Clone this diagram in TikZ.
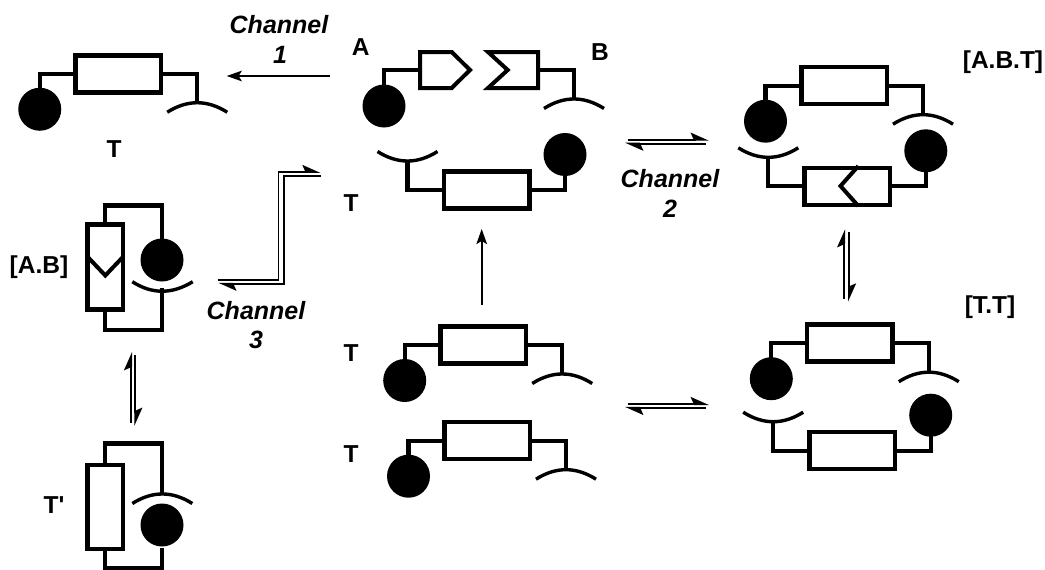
\documentclass[tikz,border=0pt]{standalone}
\usepackage{fontspec}
\setmainfont{Liberation Sans}
\newfontfamily\rawsans{Liberation Sans}
\usetikzlibrary{arrows.meta}
\tikzset{
  x=1pt,y=-1pt,
  box/.style={draw=black,line width=4.5pt,fill=white},
  thinbox/.style={draw=black,line width=4pt,fill=white},
  arm/.style={draw=black,line width=4.2pt},
  cup/.style={draw=black,line width=3.4pt},
  ball/.style={fill=black},
  lab/.style={font=\fontsize{24.5}{24.5}\selectfont\bfseries,anchor=base,inner sep=0pt},
  chan/.style={font=\fontsize{25}{25}\selectfont\bfseries\itshape,anchor=base,inner sep=0pt},
  oneway/.style={draw=black,line width=2pt,-{Stealth[length=15pt,width=10.5pt,inset=3pt]}},
  halfway/.style={draw=black,line width=2pt,-{Stealth[harpoon,length=16pt,width=14pt,inset=3pt]}},
  halfstep/.style={draw=black,line width=1.8pt,-{Stealth[harpoon,length=16pt,width=14pt,inset=3pt]}}
}
\newcommand{\cupshape}[2]{\draw[cup] (#1-30,#2+9.5) .. controls (#1-10,#2-3.2) and (#1+10,#2-3.2) .. (#1+30,#2+9.5);}
\newcommand{\mol}[3]{%
  \begin{scope}[shift={(#1,#2)},rotate=#3]
    \draw[arm] (0,0) -| (-78.5,16);
    \draw[arm] (0,0) -| (79,28);
    \draw[box] (-42.75,-18.5) rectangle (42.75,18.5);
    \fill[ball] (-78.5,35.5) circle (21.5);
    \cupshape{79}{29}
  \end{scope}}
\begin{document}
\begin{tikzpicture}
\useasboundingbox (0,0) rectangle (1045,570);
\fill[white] (0,0) rectangle (1045,570);

% straight single-strand units
\mol{118.25}{73.75}{0}
\mol{486.5}{190}{180}
\mol{844}{85.7}{0}
\mol{847.3}{186.3}{180}
\mol{483.2}{345}{0}
\mol{487}{440.7}{0}
\mol{849.8}{343.2}{0}
\mol{852.2}{450.7}{180}

% chevron in the lower strand of [A.B.T]
\draw[arm,line width=4pt] (858.3,166) -- (840.5,186) -- (858.3,206);

% A and B pieces
\draw[arm] (420,70) -| (384,90);
\draw[thinbox] (420,52) -- (451.7,52) -- (470,70) -- (451.7,88) -- (420,88) -- cycle;
\fill[ball] (384,106) circle (21.5);
\draw[arm] (538,70) -| (574,98);
\draw[thinbox] (538,52) -- (488,52) -- (507.7,70) -- (488,88) -- (538,88) -- cycle;
\cupshape{574}{99}

% [A.B]
\draw[arm] (105.3,224) |- (162,205.5) -- (162,245);
\draw[arm] (105.3,310) |- (162,330) -- (162,288);
\draw[box] (87.5,224.5) rectangle (123.2,309.5);
\draw[arm,line width=4pt] (87.5,256.7) -- (105.3,275.5) -- (123.2,256.7);
\fill[ball] (162,260) circle (21.5);
\draw[cup] (132.3,281.7) .. controls (152,294.4) and (172,294.4) .. (192.7,281.7);

% T'
\draw[arm] (105.3,465) |- (162,443.5) -- (162,494);
\draw[arm] (105.3,549) |- (162,568) -- (162,548);
\draw[box] (87.5,465) rectangle (123.2,549);
\fill[ball] (162,525) circle (21.5);
\cupshape{162.3}{494}

% connector ends
\coordinate (c1s) at (330,76);      \coordinate (c1e) at (226.7,76);
\coordinate (ups) at (481.7,305);   \coordinate (upe) at (481.7,229);
\coordinate (e1a) at (627.7,139.7); \coordinate (e1b) at (709,139.7);
\coordinate (e1c) at (705.7,143.7); \coordinate (e1d) at (625,143.7);
\coordinate (e2a) at (627.7,404);   \coordinate (e2b) at (709,404);
\coordinate (e2c) at (706,407.9);   \coordinate (e2d) at (625,407.9);
\coordinate (v1a) at (844.2,298.5); \coordinate (v1b) at (844.2,229);
\coordinate (v1c) at (849,232);     \coordinate (v1d) at (849,301.7);
\coordinate (v2a) at (131,422.7);   \coordinate (v2b) at (131,352);
\coordinate (v2c) at (135.3,355);   \coordinate (v2d) at (135.3,426);
\coordinate (s1a) at (217.5,279.7); \coordinate (s1b) at (278.5,279.7);
\coordinate (s1c) at (278.5,172);   \coordinate (s1d) at (320.5,172);
\coordinate (s2a) at (321,175.7);   \coordinate (s2b) at (284.2,175.7);
\coordinate (s2c) at (284.2,283.7); \coordinate (s2d) at (218.3,283.7);

% connectors
\draw[oneway] (c1s) -- (c1e);
\draw[oneway] (ups) -- (upe);
\draw[halfway] (e1a) -- (e1b);
\draw[halfway] (e1c) -- (e1d);
\draw[halfway] (e2a) -- (e2b);
\draw[halfway] (e2c) -- (e2d);
\draw[halfway] (v1a) -- (v1b);
\draw[halfway] (v1c) -- (v1d);
\draw[halfway] (v2a) -- (v2b);
\draw[halfway] (v2c) -- (v2d);
\draw[halfstep] (s1a) -- (s1b) -- (s1c) -- (s1d);
\draw[halfstep] (s2a) -- (s2b) -- (s2c) -- (s2d);

% labels
\node[chan] (ch1) at (279,33) {Channel};
\node[chan] (ch1n) at (280,63) {1};
\node[chan] (ch2) at (670,187.7) {Channel};
\node[chan] (ch2n) at (670,217) {2};
\node[chan] (ch3) at (256,319.3) {Channel};
\node[chan] (ch3n) at (256,348.7) {3};
\node[lab] (la) at (360.7,56) {A};
\node[lab] (lb) at (600,60.7) {B};
\node[lab] (lt1) at (114,157) {T};
\node[lab] (lt2) at (351,211.7) {T};
\node[lab] (lt3) at (351,361) {T};
\node[lab] (lt4) at (351,462.3) {T};
\node[lab] (ltp) at (54,513.3) {\rawsans\bfseries T'};
\node[lab] (lab) at (39,273) {[A.B]};
\node[lab] (labt) at (1003,68) {[A.B.T]};
\node[lab] (ltt) at (990,313) {[T.T]};
\end{tikzpicture}
\end{document}
